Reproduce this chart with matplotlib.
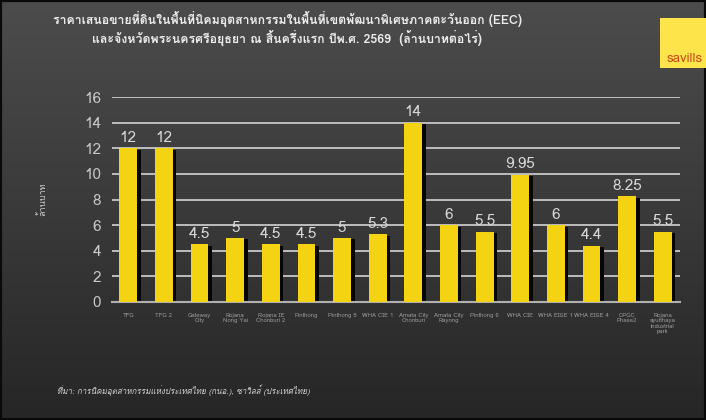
import numpy as np
import matplotlib
matplotlib.use("Agg")
import matplotlib.pyplot as plt
from matplotlib import font_manager
from matplotlib.ft2font import FT2Font
from matplotlib.patches import Rectangle

# ----------------------------
# Data
# ----------------------------
categories = ["TFG", "TFG 2", "Gateway\nCity", "Rojana\nNong Yai", "Rojana IE\nChonburi 2",
              "Pinthong", "Pinthong 5", "WHA CIE 1", "Amata City\nChonburi", "Amata City\nRayong",
              "Pinthong 6", "WHA CIE", "WHA EISE 1", "WHA EISE 4", "CPGC\nPhase2",
              "Rojana\nayutthaya\nindustrial\npark"]
values = [12, 12, 4.5, 5, 4.5, 4.5, 5, 5.3, 14, 6, 5.5, 9.95, 6, 4.4, 8.25, 5.5]
value_labels = ["12", "12", "4.5", "5", "4.5", "4.5", "5", "5.3", "14", "6", "5.5", "9.95",
                "6", "4.4", "8.25", "5.5"]
yticks = [0, 2, 4, 6, 8, 10, 12, 14, 16]

title1 = "ราคาเสนอขายที่ดินในพื้นที่นิคมอุตสาหกรรมในพื้นที่เขตพัฒนาพิเศษภาคตะวันออก (EEC)"
title2 = "และจังหวัดพระนครศรีอยุธยา ณ สิ้นครึ่งแรก ปีพ.ศ. 2569  (ล้านบาทต่อไร่)"
ylabel = "ล้านบาท"
source = "ที่มา: การนิคมอุตสาหกรรมแห่งประเทศไทย (กนอ.), ซาวิลส์ (ประเทศไทย)"

# ----------------------------
# find a font with Thai glyphs
# ----------------------------
thai_family = None
for fe in font_manager.fontManager.ttflist:
    try:
        if 0x0E01 in FT2Font(fe.fname).get_charmap():
            thai_family = fe.name
            break
    except Exception:
        pass
fams = ["DejaVu Sans"]
if thai_family:
    fams = [thai_family, "DejaVu Sans"]
plt.rcParams['font.family'] = fams

# ----------------------------
# Plot
# ----------------------------
fig = plt.figure(figsize=(7.06, 4.2), dpi=100)

# gradient background
bg = fig.add_axes([0, 0, 1, 1], zorder=-10)
grad = np.linspace(0, 1, 256).reshape(-1, 1)
bg.imshow(grad, aspect='auto', extent=[0, 1, 0, 1], origin='lower',
          cmap=matplotlib.colors.LinearSegmentedColormap.from_list('g', ['#262626', '#3a3a3a', '#4c4c4c']))
bg.add_patch(Rectangle((0, 0), 1, 1, fill=False, edgecolor='#0a0a0a', linewidth=3, transform=bg.transAxes))
bg.set_axis_off()

ax = fig.add_axes([0.159, 0.281, 0.804, 0.488])
ax.set_facecolor('none')
x = np.arange(len(values))

# shadows then bars
ax.bar(x + 0.1, np.array(values) - 0.12, width=0.5, color='#050505', zorder=2)
ax.bar(x, values, width=0.5, color='#f4d313', zorder=3)

for xi, v, lab in zip(x, values, value_labels):
    ax.text(xi, v + 0.25, lab, ha='center', va='bottom', color='#d8d8d8', fontsize=11, zorder=4)

ax.set_xlim(-0.45, 15.48)
ax.set_ylim(0, 16)
ax.set_yticks(yticks)
ax.yaxis.grid(True, color='#c8c8c8', linewidth=1.3, zorder=1)
ax.set_axisbelow(True)
for s in ['top', 'right', 'left']:
    ax.spines[s].set_visible(False)
ax.spines['bottom'].set_color('#b0b0b0')
ax.spines['bottom'].set_linewidth(1.5)
ax.tick_params(axis='y', colors='#c8c8c8', labelsize=11, length=0, pad=8)
ax.tick_params(axis='x', length=0, pad=8)
ax.set_xticks(x)
ax.set_xticklabels(categories, fontsize=4.3, color='#9a9a9a', linespacing=1.1)

fig.text(0.06, 0.525, ylabel, rotation=90, ha='center', va='center', color='#cccccc', fontsize=6.5)

fig.text(0.407, 0.955, title1, ha='center', va='center', color='#ececec', fontsize=8.9, weight='semibold')
fig.text(0.407, 0.91, title2, ha='center', va='center', color='#ececec', fontsize=8.9, weight='semibold')

fig.text(0.081, 0.07, source, ha='left', va='center', color='#d0d0d0', fontsize=5.8, style='italic')

# savills logo
fig.patches.append(Rectangle((0.935, 0.838), 0.07, 0.12, transform=fig.transFigure,
                             facecolor='#fde44a', edgecolor='none', zorder=5))
fig.text(0.970, 0.845, "savills", ha='center', va='bottom', color='#c94a1c', fontsize=9.5, zorder=6)

plt.savefig("out.png", dpi=100)
